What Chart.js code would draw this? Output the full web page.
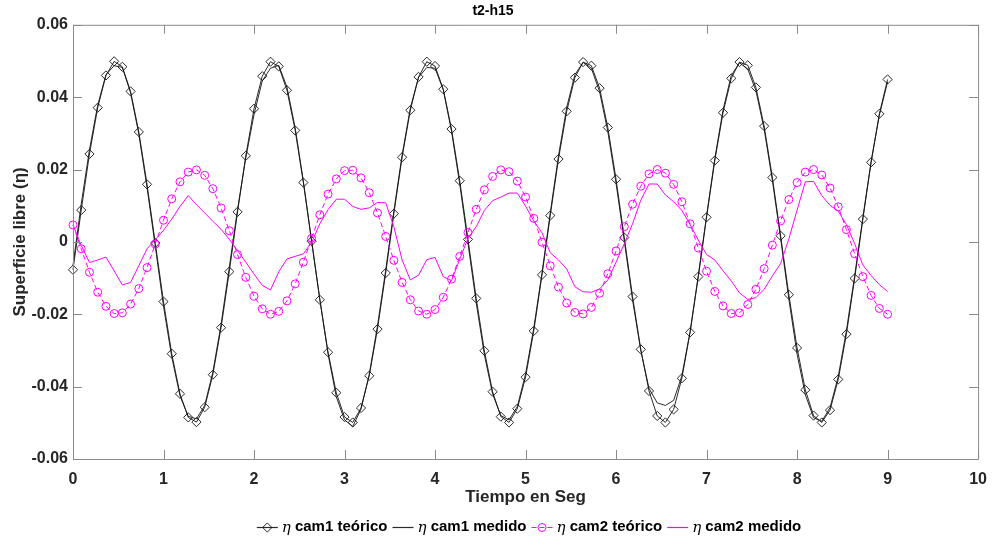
<!DOCTYPE html>
<html>
<head>
<meta charset="utf-8">
<script src="https://cdn.jsdelivr.net/npm/chart.js@4.4.1/dist/chart.umd.min.js"></script>
<style>
html,body{margin:0;padding:0;background:#fff;}
#c{display:block;}
</style>
</head>
<body>
<canvas id="c" width="998" height="542"></canvas>
<script>
// ---- data ----
const tiempo = [0.000,0.091,0.182,0.273,0.364,0.455,0.545,0.636,0.727,0.818,
0.909,1.000,1.091,1.182,1.273,1.364,1.455,1.545,1.636,1.727,
1.818,1.909,2.000,2.091,2.182,2.273,2.364,2.455,2.545,2.636,
2.727,2.818,2.909,3.000,3.091,3.182,3.273,3.364,3.455,3.545,
3.636,3.727,3.818,3.909,4.000,4.091,4.182,4.273,4.364,4.455,
4.545,4.636,4.727,4.818,4.909,5.000,5.091,5.182,5.273,5.364,
5.455,5.545,5.636,5.727,5.818,5.909,6.000,6.091,6.182,6.273,
6.364,6.455,6.545,6.636,6.727,6.818,6.909,7.000,7.091,7.182,
7.273,7.364,7.455,7.545,7.636,7.727,7.818,7.909,8.000,8.091,
8.182,8.273,8.364,8.455,8.545,8.636,8.727,8.818,8.909,9.000];

const cam1Teorico = [-0.0077,0.0088,0.0243,0.0371,0.0460,0.0499,0.0484,0.0416,0.0304,0.0159,
-0.0003,-0.0165,-0.0309,-0.0420,-0.0485,-0.0498,-0.0457,-0.0367,-0.0237,-0.0082,
0.0083,0.0238,0.0368,0.0458,0.0498,0.0485,0.0419,0.0308,0.0164,0.0002,
-0.0160,-0.0305,-0.0417,-0.0484,-0.0499,-0.0459,-0.0370,-0.0241,-0.0086,0.0078,
0.0234,0.0364,0.0456,0.0498,0.0486,0.0422,0.0312,0.0169,0.0007,-0.0156,
-0.0301,-0.0414,-0.0483,-0.0499,-0.0461,-0.0374,-0.0246,-0.0091,0.0073,0.0229,
0.0361,0.0454,0.0497,0.0487,0.0425,0.0316,0.0173,0.0012,-0.0151,-0.0297,
-0.0412,-0.0481,-0.0499,-0.0463,-0.0377,-0.0250,-0.0096,0.0068,0.0225,0.0357,
0.0452,0.0497,0.0488,0.0427,0.0320,0.0178,0.0017,-0.0146,-0.0293,-0.0409,
-0.0480,-0.0499,-0.0465,-0.0380,-0.0255,-0.0101,0.0063,0.0220,0.0354,0.0449];

const cam1Medido = [-0.0065,0.0105,0.0255,0.0378,0.0462,0.0487,0.0482,0.0412,0.0298,0.0150,
-0.0012,-0.0178,-0.0318,-0.0425,-0.0482,-0.0489,-0.0452,-0.0360,-0.0228,-0.0070,
0.0090,0.0232,0.0352,0.0445,0.0480,0.0488,0.0428,0.0315,0.0168,0.0004,
-0.0158,-0.0310,-0.0428,-0.0492,-0.0510,-0.0462,-0.0366,-0.0232,-0.0078,0.0085,
0.0240,0.0370,0.0455,0.0482,0.0480,0.0420,0.0306,0.0160,-0.0004,-0.0168,
-0.0312,-0.0420,-0.0480,-0.0492,-0.0455,-0.0365,-0.0238,-0.0085,0.0080,0.0238,
0.0372,0.0462,0.0496,0.0480,0.0415,0.0305,0.0162,0.0002,-0.0160,-0.0300,
-0.0405,-0.0445,-0.0452,-0.0438,-0.0370,-0.0248,-0.0092,0.0072,0.0230,0.0365,
0.0460,0.0495,0.0478,0.0418,0.0312,0.0170,0.0010,-0.0158,-0.0310,-0.0422,
-0.0486,-0.0496,-0.0458,-0.0372,-0.0245,-0.0094,0.0068,0.0222,0.0350,0.0442];

const cam2Teorico = [0.0047,-0.0019,-0.0084,-0.0139,-0.0178,-0.0198,-0.0196,-0.0172,-0.0129,-0.0071,
-0.0006,0.0060,0.0119,0.0166,0.0193,0.0199,0.0184,0.0147,0.0094,0.0031,
-0.0035,-0.0098,-0.0150,-0.0185,-0.0200,-0.0192,-0.0163,-0.0116,-0.0056,0.0010,
0.0075,0.0132,0.0174,0.0197,0.0198,0.0177,0.0136,0.0080,0.0015,-0.0051,
-0.0112,-0.0160,-0.0191,-0.0200,-0.0187,-0.0153,-0.0103,-0.0040,0.0026,0.0090,
0.0144,0.0181,0.0199,0.0194,0.0168,0.0124,0.0065,-0.0001,-0.0066,-0.0125,
-0.0169,-0.0195,-0.0199,-0.0181,-0.0142,-0.0088,-0.0025,0.0042,0.0104,0.0154,
0.0188,0.0200,0.0190,0.0159,0.0111,0.0050,-0.0017,-0.0081,-0.0137,-0.0177,
-0.0198,-0.0196,-0.0173,-0.0131,-0.0074,-0.0009,0.0058,0.0117,0.0164,0.0193,
0.0200,0.0185,0.0149,0.0097,0.0034,-0.0033,-0.0096,-0.0148,-0.0184,-0.0200];

const cam2Medido = [0.0047,-0.0010,-0.0057,-0.0050,-0.0042,-0.0080,-0.0119,-0.0112,-0.0066,-0.0019,
0.0006,0.0032,0.0063,0.0098,0.0128,0.0103,0.0080,0.0057,0.0035,0.0007,
-0.0024,-0.0056,-0.0089,-0.0120,-0.0133,-0.0083,-0.0047,-0.0040,-0.0033,-0.0002,
0.0050,0.0089,0.0118,0.0118,0.0098,0.0090,0.0094,0.0109,0.0108,0.0042,
-0.0050,-0.0105,-0.0092,-0.0049,-0.0043,-0.0096,-0.0107,-0.0048,0.0010,0.0042,
0.0087,0.0114,0.0124,0.0135,0.0135,0.0099,0.0058,0.0025,-0.0030,-0.0050,
-0.0075,-0.0124,-0.0138,-0.0139,-0.0130,-0.0105,-0.0056,-0.0005,0.0050,0.0115,
0.0160,0.0160,0.0130,0.0111,0.0087,0.0048,0.0005,-0.0035,-0.0050,-0.0080,
-0.0108,-0.0141,-0.0159,-0.0154,-0.0131,-0.0094,-0.0060,0.0008,0.0088,0.0166,
0.0167,0.0128,0.0101,0.0085,0.0048,-0.0005,-0.0064,-0.0093,-0.0118,-0.0137];

const xTicks = [0,1,2,3,4,5,6,7,8,9,10];
const yTicks = [-0.06,-0.04,-0.02,0,0.02,0.04,0.06];
const yTickLabels = ['-0.06','-0.04','-0.02','0','0.02','0.04','0.06'];
const seriesNames = ['cam1 teórico','cam1 medido','cam2 teórico','cam2 medido'];
const chartTitle = 't2-h15';
const xTitle = 'Tiempo en Seg';
const yTitle = 'Superficie libre (η)';

// ---- chart ----
const FONT = "'Liberation Sans', Arial, Helvetica, sans-serif";
const MAGENTA = '#ff00ff';
const BLACK = 'rgba(20,20,20,0.9)';
const toXY = arr => tiempo.map((t, i) => ({x: t, y: arr[i]}));

const styles = [
  {color: BLACK, dash: [], point: 'rectRot', radius: 4.6, width: 1},
  {color: BLACK, dash: [], point: false, radius: 0, width: 1},
  {color: MAGENTA, dash: [5, 3], point: 'circle', radius: 4, width: 1},
  {color: MAGENTA, dash: [], point: false, radius: 0, width: 1}
];
const seriesData = [cam1Teorico, cam1Medido, cam2Teorico, cam2Medido];

const datasets = seriesData.map((arr, k) => ({
  label: 'η ' + seriesNames[k],
  data: toXY(arr),
  borderColor: styles[k].color,
  borderWidth: styles[k].width,
  borderDash: styles[k].dash,
  pointStyle: styles[k].point || 'circle',
  pointRadius: styles[k].radius,
  pointBorderColor: styles[k].color,
  pointBorderWidth: 1,
  pointBackgroundColor: 'rgba(0,0,0,0)',
  pointHoverRadius: styles[k].radius,
  tension: 0,
  fill: false,
  clip: false,
  order: 4 - k
}));

const frame = {
  id: 'frame',
  afterDraw(chart) {
    const {ctx, chartArea: a, scales} = chart;
    ctx.save();
    ctx.strokeStyle = '#8a8a8a';
    ctx.lineWidth = 1;
    ctx.beginPath();
    ctx.rect(a.left + 0.5, a.top + 0.5, a.right - a.left, a.bottom - a.top);
    ctx.stroke();
    const TL = 9;
    ctx.beginPath();
    xTicks.forEach(v => {
      const px = Math.round(scales.x.getPixelForValue(v)) + 0.5;
      ctx.moveTo(px, a.bottom); ctx.lineTo(px, a.bottom - TL);
      ctx.moveTo(px, a.top); ctx.lineTo(px, a.top + TL);
    });
    yTicks.forEach(v => {
      const py = Math.round(scales.y.getPixelForValue(v)) + 0.5;
      ctx.moveTo(a.left, py); ctx.lineTo(a.left + TL, py);
      ctx.moveTo(a.right, py); ctx.lineTo(a.right - TL, py);
    });
    ctx.stroke();

    // legend (drawn below the axes, MATLAB style, no box)
    const ly = 527;
    const sampleW = 21;
    const boldF = 'bold 15px ' + FONT;
    const etaF = 'italic 15px "DejaVu Serif", "Liberation Serif", serif';
    const items = chart.data.datasets.map((d, k) => {
      ctx.font = etaF; const w1 = ctx.measureText('η').width;
      ctx.font = boldF; const w2 = ctx.measureText(' ' + seriesNames[k]).width;
      return {k, w1, w2, total: sampleW + 4 + w1 + w2};
    });
    const gap = 5;
    const totalW = items.reduce((s, it) => s + it.total, 0) + gap * (items.length - 1);
    let x = 529 - totalW / 2;
    items.forEach(it => {
      const st = styles[it.k];
      ctx.save();
      ctx.strokeStyle = st.color;
      ctx.fillStyle = 'rgba(0,0,0,0)';
      ctx.lineWidth = 1.2;
      ctx.setLineDash(st.dash);
      ctx.beginPath();
      ctx.moveTo(x, ly + 0.5); ctx.lineTo(x + sampleW, ly + 0.5);
      ctx.stroke();
      ctx.setLineDash([]);
      ctx.lineWidth = 1;
      if (st.point) {
        Chart.helpers.drawPoint(ctx, {pointStyle: st.point, radius: st.radius, borderWidth: 1}, x + sampleW / 2, ly + 0.5);
      }
      ctx.restore();
      let tx = x + sampleW + 4;
      ctx.fillStyle = '#000';
      ctx.textBaseline = 'middle';
      ctx.textAlign = 'left';
      ctx.font = etaF; ctx.fillText('η', tx, ly + 1);
      ctx.font = boldF; ctx.fillText(' ' + seriesNames[it.k], tx + it.w1, ly);
      x += it.total + gap;
    });
    ctx.restore();
  }
};

new Chart(document.getElementById('c'), {
  type: 'line',
  data: {datasets},
  options: {
    responsive: false,
    animation: false,
    devicePixelRatio: 1,
    layout: {padding: {left: 0, right: 12, top: 0, bottom: 0}},
    plugins: {
      legend: {display: false},
      tooltip: {enabled: false},
      title: {
        display: true,
        text: chartTitle,
        color: '#000',
        font: {family: FONT, size: 14, weight: 'bold'},
        padding: {top: 3, bottom: 5}
      }
    },
    scales: {
      x: {
        type: 'linear',
        min: 0, max: 10,
        afterBuildTicks: s => { s.ticks = xTicks.map(v => ({value: v})); },
        afterFit: s => { s.height = 83; },
        grid: {display: false, drawTicks: false},
        border: {display: false},
        ticks: {
          color: '#262626',
          font: {family: FONT, size: 16, weight: 'bold'},
          padding: 11,
          maxRotation: 0,
          callback: v => String(v)
        },
        title: {
          display: true,
          text: xTitle,
          color: '#262626',
          font: {family: FONT, size: 17, weight: 'bold'},
          padding: {top: 0, bottom: 34}
        }
      },
      y: {
        type: 'linear',
        min: -0.06, max: 0.06,
        afterBuildTicks: s => { s.ticks = yTicks.map(v => ({value: v})); },
        afterFit: s => { s.width = 73; },
        grid: {display: false, drawTicks: false},
        border: {display: false},
        ticks: {
          color: '#262626',
          font: {family: FONT, size: 16, weight: 'bold'},
          padding: 5,
          callback: v => {
            const idx = yTicks.findIndex(t => Math.abs(t - v) < 1e-9);
            return idx >= 0 ? yTickLabels[idx] : '';
          }
        },
        title: {
          display: true,
          text: yTitle,
          color: '#262626',
          font: {family: FONT, size: 17, weight: 'bold'},
          padding: {top: 10, bottom: 0}
        }
      }
    }
  },
  plugins: [frame]
});
</script>
</body>
</html>
